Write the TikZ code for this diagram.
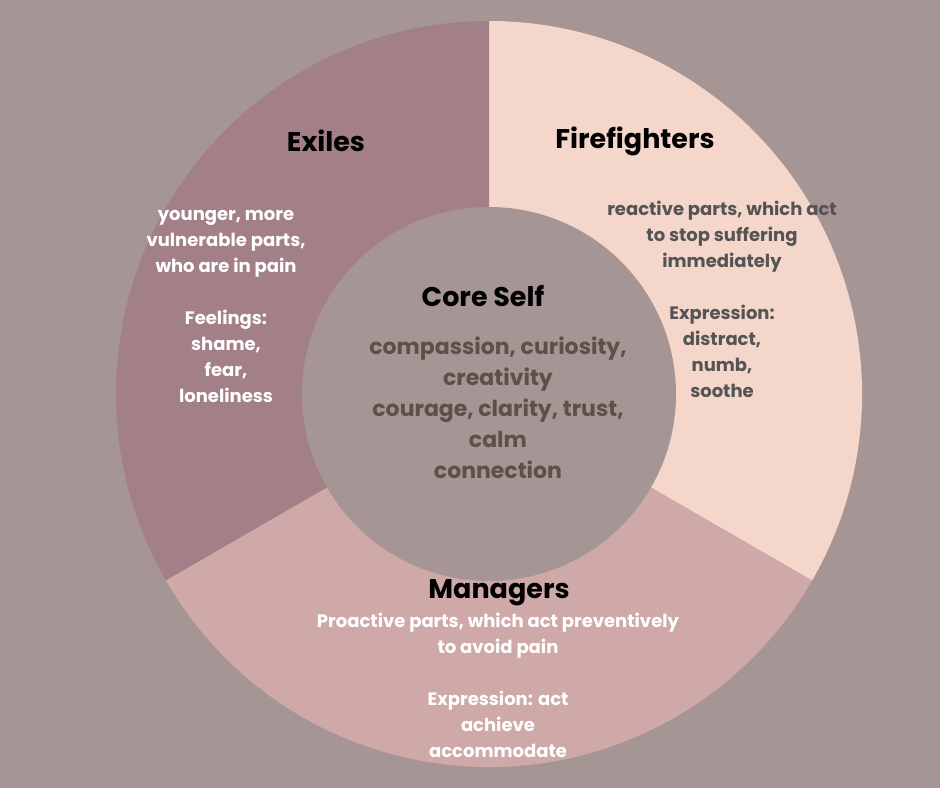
\documentclass[tikz,border=0pt]{standalone}
\usepackage{fontspec}
\setmainfont{Poppins}
\definecolor{bgc}{HTML}{A69595}
\definecolor{exc}{HTML}{A38088}
\definecolor{ffc}{HTML}{F5D6CA}
\definecolor{mgc}{HTML}{CEA9A8}
\definecolor{corec}{HTML}{A69595}
\definecolor{coretext}{HTML}{5E5046}
\definecolor{fftext}{HTML}{545454}
\tikzset{
  title/.style={font=\fontsize{27}{32}\selectfont\bfseries, text=black, inner sep=0pt},
  body/.style={font=\fontsize{18}{26}\selectfont\bfseries, align=center, inner sep=0pt},
  corebody/.style={font=\fontsize{22}{31}\selectfont\bfseries, align=center, inner sep=0pt, text=coretext}
}
\begin{document}
\begin{tikzpicture}[x=1pt,y=1pt]
\fill[bgc] (0,0) rectangle (940,788);
\useasboundingbox (0,0) rectangle (940,788);
\coordinate (c) at (489,394);
\fill[ffc] (c) -- ++(-30:373) arc[start angle=-30, end angle=90, radius=373] -- cycle;
\fill[exc] (c) -- ++(90:373) arc[start angle=90, end angle=210, radius=373] -- cycle;
\fill[mgc] (c) -- ++(210:373) arc[start angle=210, end angle=330, radius=373] -- cycle;
\fill[corec] (c) circle[radius=187];

\node[title] (exiles) at (326,647) {Exiles};
\node[title] (ff) at (635,647) {Firefighters};
\node[title] (core) at (483,492) {Core Self};
\node[title] (mg) at (499,195) {Managers};

\node[body, text=white] (extext) at (226,482) {younger, more\\vulnerable parts,\\who are in pain\\[26pt]Feelings:\\shame,\\fear,\\loneliness};
\node[body, text=fftext] (fftxt) at (722,489) {reactive parts, which act\\to stop suffering\\immediately\\[26pt]Expression:\\distract,\\numb,\\soothe};
\node[corebody] (coretxt) at (498,380) {compassion, curiosity,\\creativity\\courage, clarity, trust,\\calm\\connection};
\node[body, text=white] (mgtxt) at (498,103) {Proactive parts, which act preventively\\to avoid pain\\[26pt]Expression: act\\achieve\\accommodate};
\end{tikzpicture}
\end{document}
